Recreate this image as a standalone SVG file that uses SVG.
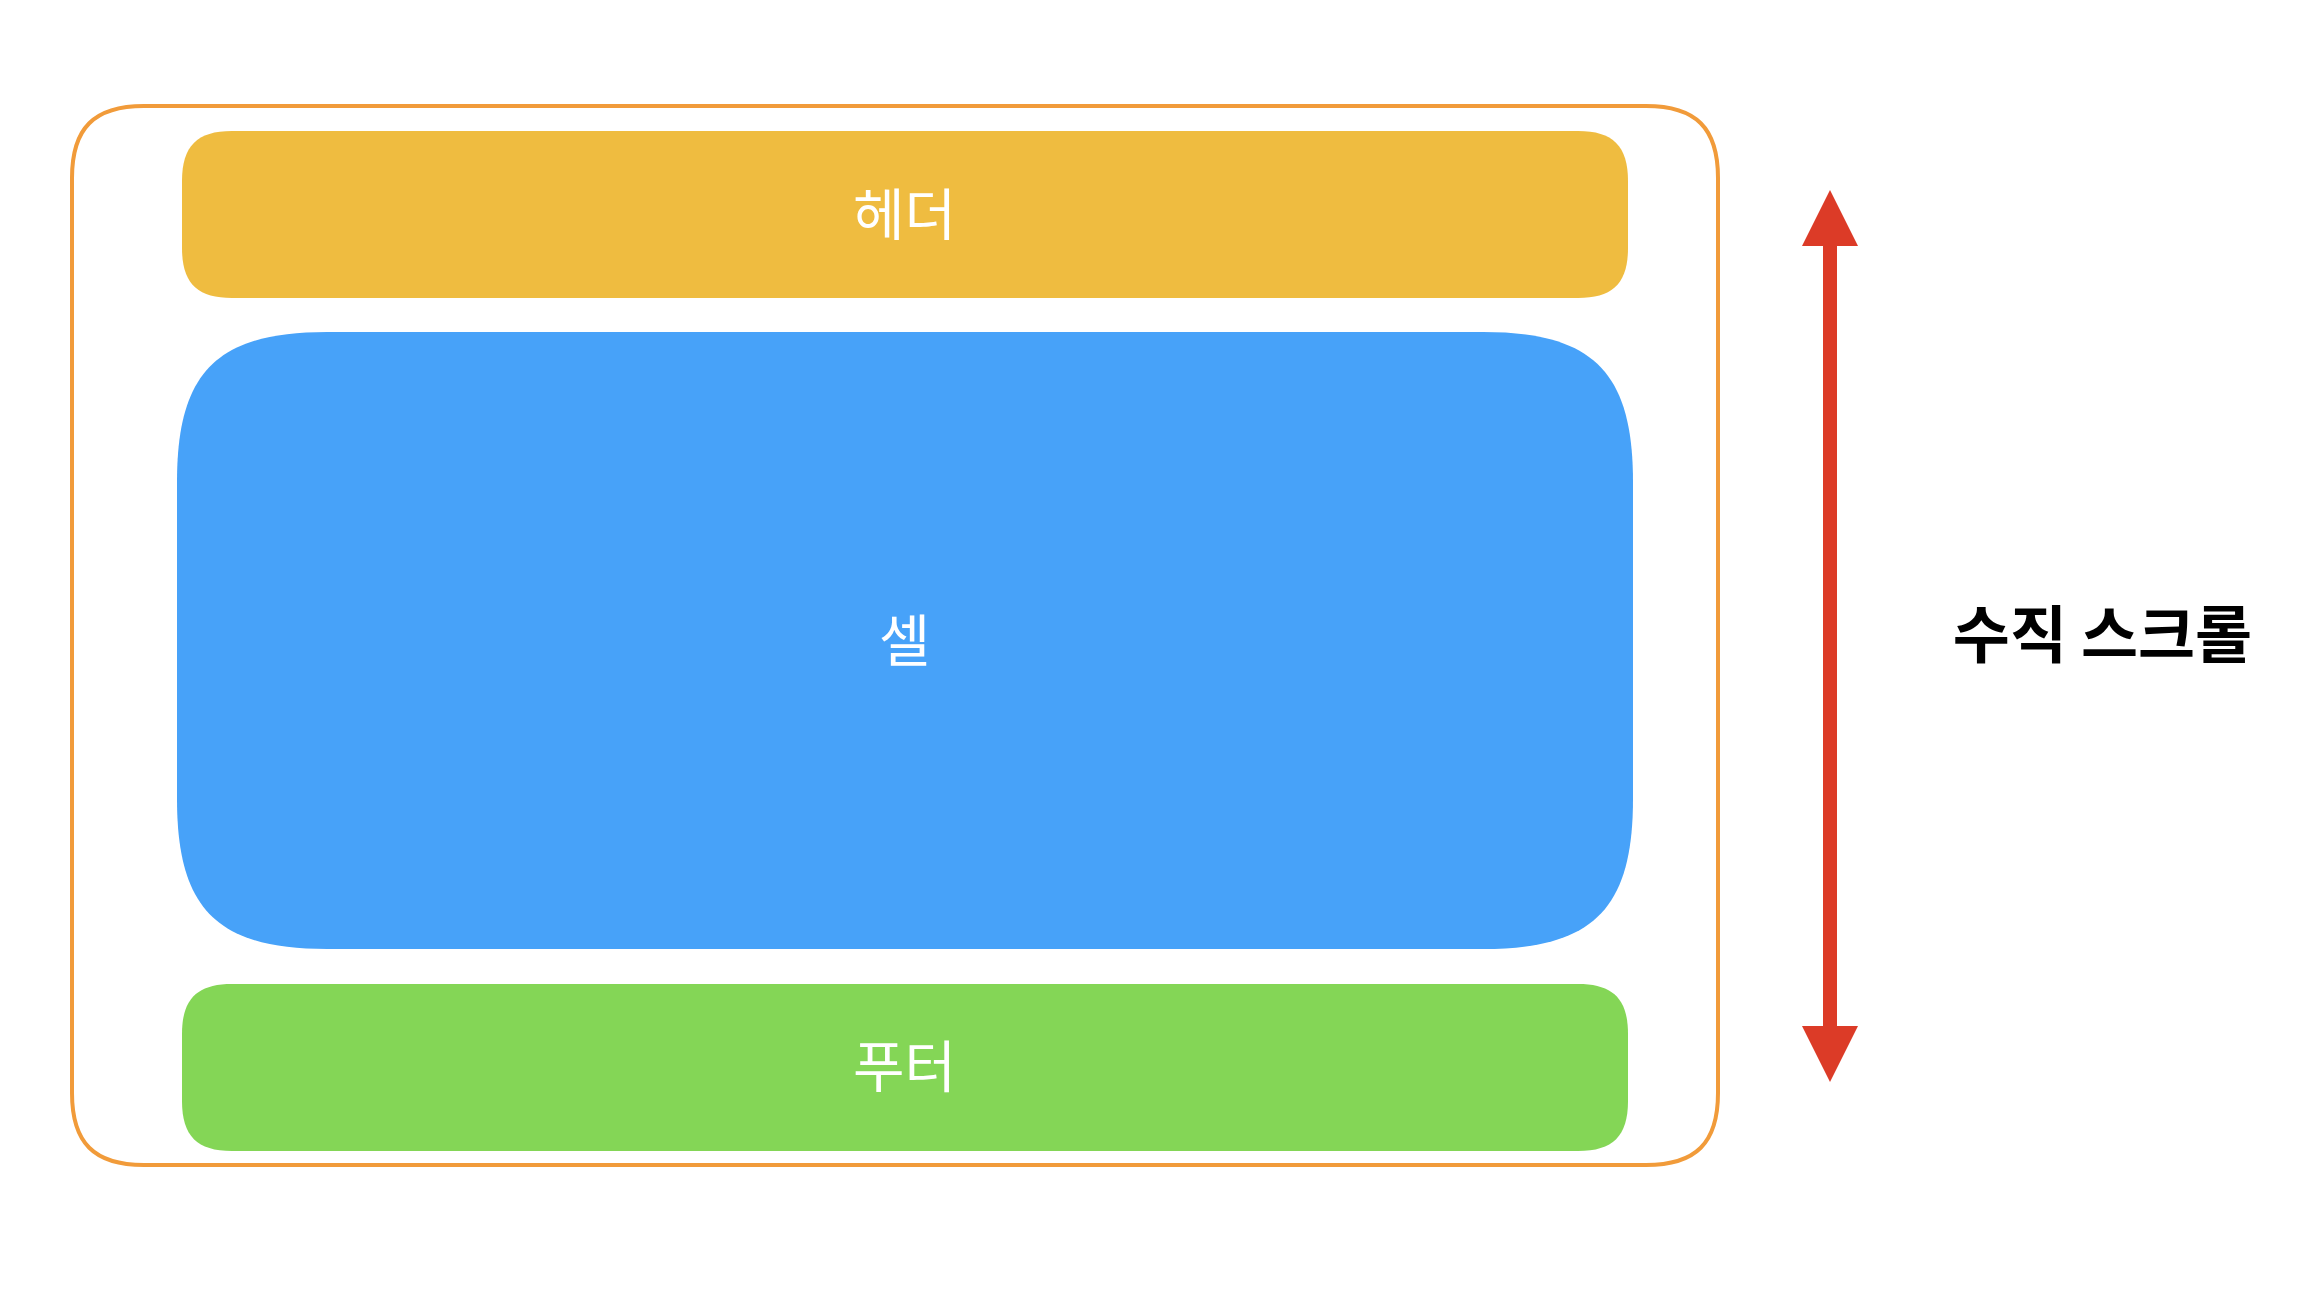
<svg xmlns="http://www.w3.org/2000/svg" width="2306" height="1294" viewBox="0 0 2306 1294">
<style>
.lbl{font-family:"Noto Sans CJK KR","Noto Sans",sans-serif;font-weight:400;font-size:56px;fill:#ffffff;text-anchor:middle;dominant-baseline:central}
.side{font-family:"Noto Sans CJK KR","Noto Sans",sans-serif;font-weight:700;font-size:62px;fill:#000000;text-anchor:middle;dominant-baseline:central}
</style>
<defs>
<marker id="head" viewBox="0 0 56 56" refX="0" refY="28" markerWidth="56" markerHeight="56" markerUnits="userSpaceOnUse" orient="auto-start-reverse">
<path d="M0,0 L56,28 L0,56 Z" fill="#DC3B27"/>
</marker>
</defs>
<rect x="0" y="0" width="2306" height="1294" fill="#ffffff"/>
<g id="container">
<path d="M144,106 H1646 C1696,106 1718,128 1718,178 V1093 C1718,1143 1696,1165 1646,1165 H144 C94,1165 72,1143 72,1093 V178 C72,128 94,106 144,106 Z" fill="none" stroke="#F19B3A" stroke-width="4"/>
</g>
<g id="header">
<path d="M232,131 H1578 C1613,131 1628,146 1628,181 V248 C1628,283 1613,298 1578,298 H232 C197,298 182,283 182,248 V181 C182,146 197,131 232,131 Z" fill="#EFBC40"/>
<text class="lbl" x="904.5" y="210.5">헤더</text>
</g>
<g id="cell">
<path d="M327,332 H1483 C1593,332 1633,372 1633,482 V799 C1633,909 1593,949 1483,949 H327 C217,949 177,909 177,799 V482 C177,372 217,332 327,332 Z" fill="#47A2F9"/>
<text class="lbl" x="904.5" y="636.5">셀</text>
</g>
<g id="footer">
<path d="M232,984 H1578 C1613,984 1628,999 1628,1034 V1101 C1628,1136 1613,1151 1578,1151 H232 C197,1151 182,1136 182,1101 V1034 C182,999 197,984 232,984 Z" fill="#84D656"/>
<text class="lbl" x="904.5" y="1062.5">푸터</text>
</g>
<g id="connectors">
<line x1="1830" y1="246" x2="1830" y2="1026" stroke="#DC3B27" stroke-width="14" marker-start="url(#head)" marker-end="url(#head)"/>
</g>
<g id="scroll-label">
<text class="side" x="2102.5" y="631">수직 스크롤</text>
</g>
</svg>
